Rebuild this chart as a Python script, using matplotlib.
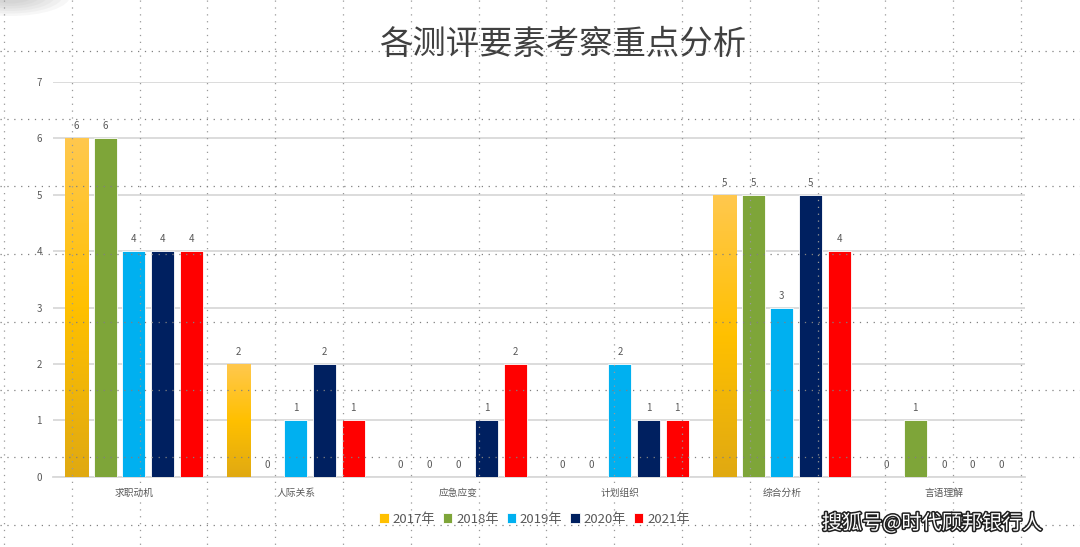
import matplotlib.pyplot as plt
import numpy as np
import matplotlib.patheffects as pe
from matplotlib.patches import Ellipse
from matplotlib.colors import LinearSegmentedColormap

plt.rcParams['font.family'] = ['Noto Sans CJK SC', 'DejaVu Sans']

categories = ['求职动机', '人际关系', '应急应变', '计划组织', '综合分析', '言语理解']
years = ['2017年', '2018年', '2019年', '2020年', '2021年']
v2017 = [6, 2, 0, 0, 5, 0]
v2018 = [6, 0, 0, 0, 5, 1]
v2019 = [4, 1, 0, 2, 3, 0]
v2020 = [4, 2, 1, 1, 5, 0]
v2021 = [4, 1, 2, 1, 4, 0]
series = [v2017, v2018, v2019, v2020, v2021]
colors = ['#FFC000', '#7EA539', '#00B0F0', '#002060', '#FF0000']

fig = plt.figure(figsize=(10.8, 5.47), dpi=100)
ax = fig.add_axes([0.049, 0.1285, 0.9, 0.7215])

x = np.arange(len(categories))
pitch = 0.177
width = 0.142
for j, vals in enumerate(series):
    bars = ax.bar(x + (j - 2) * pitch, vals, width, color=colors[j],
                  edgecolor='white', linewidth=0.6, zorder=3, label=years[j])
    if j == 0:
        # gold gradient on the 2017 bars
        grad = np.linspace(0, 1, 256).reshape(-1, 1)
        cmap = LinearSegmentedColormap.from_list('g', ['#E0A912', '#FFC000', '#FFC84E'])
        for b in bars:
            if b.get_height() == 0:
                continue
            bx, by = b.get_x(), b.get_y()
            im = ax.imshow(grad, cmap=cmap, origin='lower', aspect='auto',
                           extent=[bx, bx + b.get_width(), by, by + b.get_height()],
                           zorder=3.5)
            im.set_clip_path(b)
    ax.bar_label(bars, padding=5, fontsize=7, color='#595959')

ax.set_xlim(-0.5, len(categories) - 0.5)
ax.set_ylim(0, 7)
ax.set_yticks(range(0, 8))
ax.set_xticks(x)
ax.set_xticklabels(categories)
ax.tick_params(axis='both', length=0, labelsize=7, colors='#595959')
ax.tick_params(axis='y', pad=8)
ax.tick_params(axis='x', pad=8)
ax.grid(axis='y', color='#D9D9D9', lw=1.3, zorder=0)
for s in ['top', 'right', 'left']:
    ax.spines[s].set_visible(False)
ax.spines['bottom'].set_color('#D9D9D9')
ax.spines['bottom'].set_linewidth(1.3)

fig.text(0.521, 0.918, '各测评要素考察重点分析', fontsize=24, color='#404040',
         ha='center', va='center')

fig.legend(loc='center', bbox_to_anchor=(0.495, 0.051), ncol=5, frameon=False,
           fontsize=9.5, handlelength=0.7, handleheight=0.7, handletextpad=0.3,
           columnspacing=0.6, labelcolor='#595959')

# slide dotted grid overlay
ov = fig.add_axes([0, 0, 1, 1], zorder=10)
ov.set_xlim(0, 1080)
ov.set_ylim(547, 0)
ov.axis('off')
ov.patch.set_alpha(0)
for xv in np.arange(4, 1080, 67.8):
    ov.plot([xv, xv], [0, 547], color='#999999', lw=0.9, ls=(0, (1, 4.5)))
for yv in np.arange(51, 547, 67.7):
    ov.plot([0, 1080], [yv, yv], color='#808080', lw=0.9, ls=(0, (1, 4.5)))
for k in range(6):
    ov.add_patch(Ellipse((10, -4), 120 - k * 15, 40 - k * 5, color='#9A9A9A', alpha=0.08, lw=0))

fig.text(0.863, 0.043, '搜狐号@时代顾邦银行人', fontsize=14.5, color='white', ha='center',
         va='center', zorder=20,
         path_effects=[pe.withStroke(linewidth=2.2, foreground='#202020')])

fig.savefig('out.png', dpi=100)
